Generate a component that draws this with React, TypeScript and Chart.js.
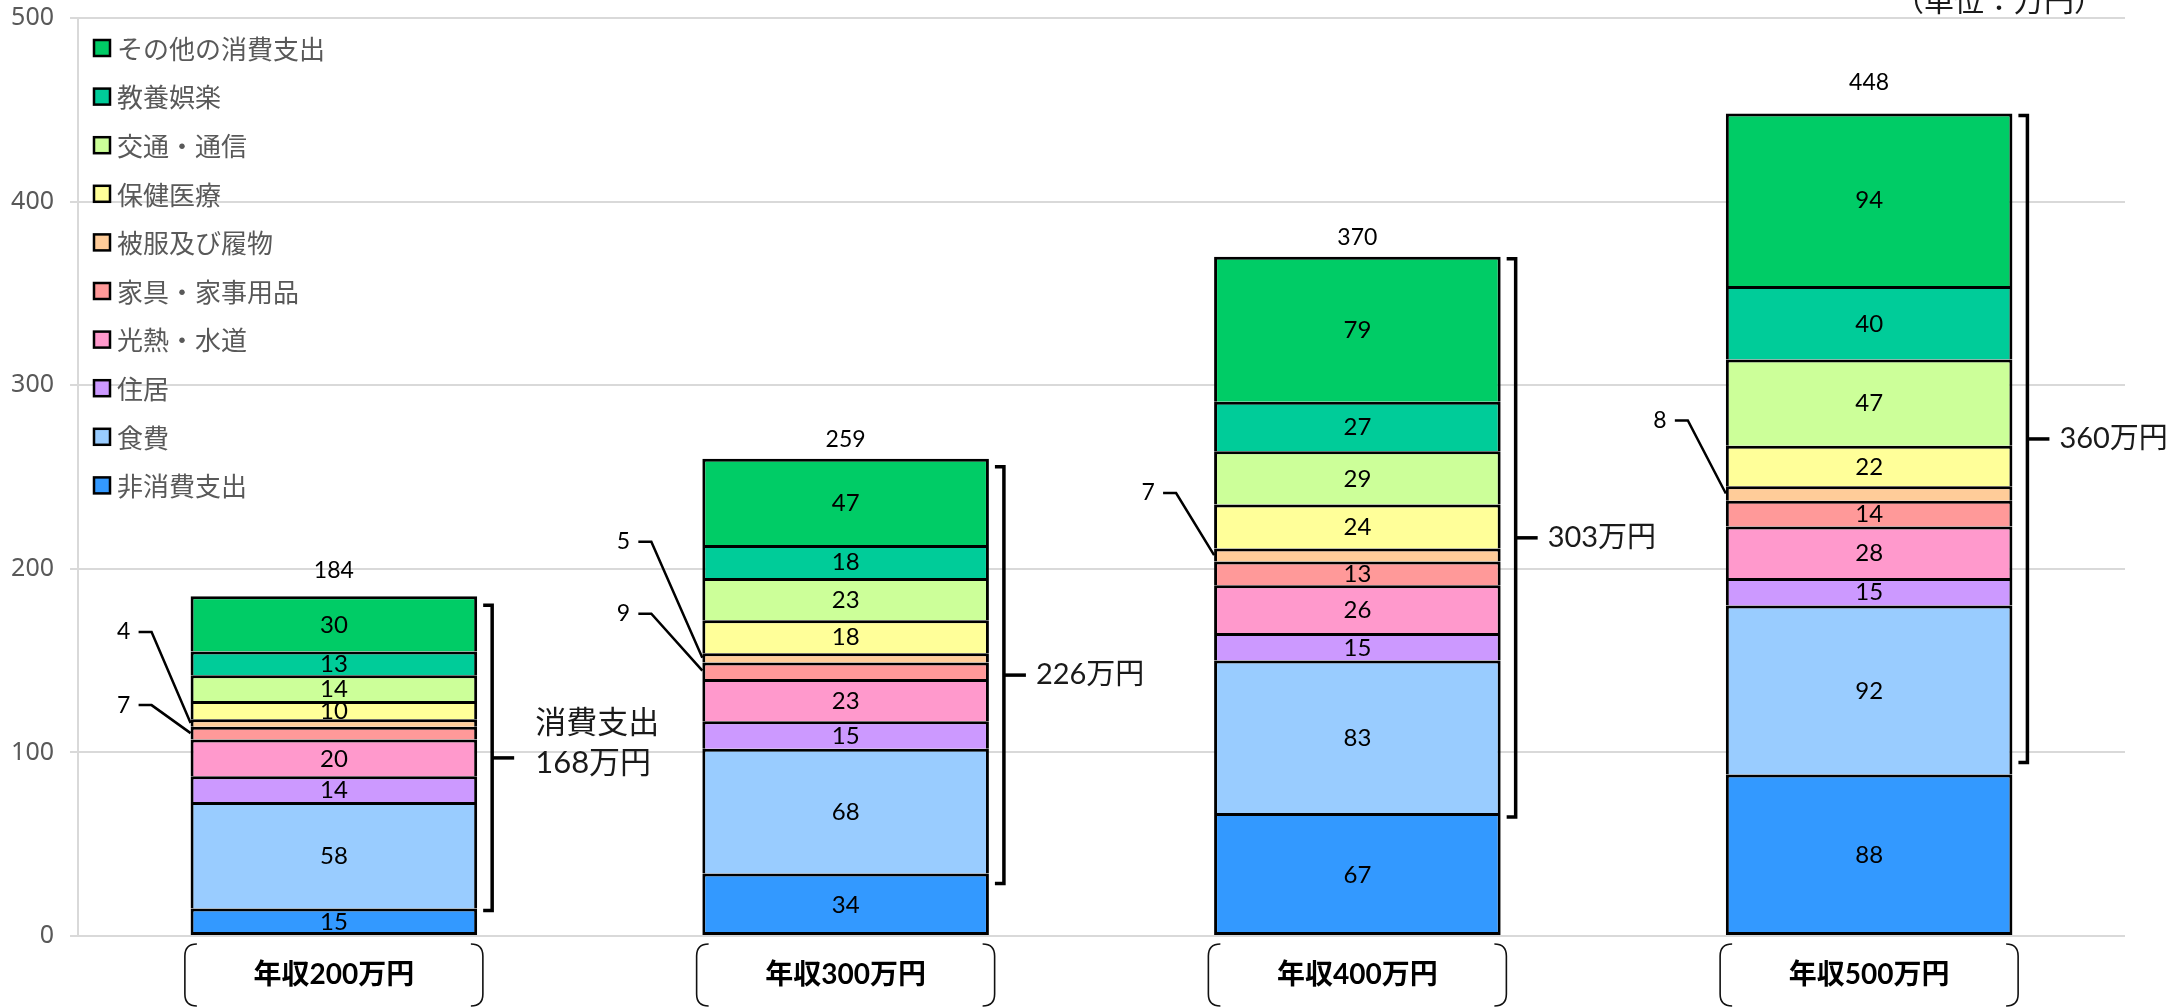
import React, { useEffect, useRef } from "react";
import { Chart, registerables } from "chart.js";

Chart.register(...registerables);

const W = 2172;
const H = 1008;

// ---- data (万円) ----
const categories = ["年収200万円", "年収300万円", "年収400万円", "年収500万円"];
const seriesNames = [
  "非消費支出",
  "食費",
  "住居",
  "光熱・水道",
  "家具・家事用品",
  "被服及び履物",
  "保健医療",
  "交通・通信",
  "教養娯楽",
  "その他の消費支出",
];
const nonConsumption = [15, 34, 67, 88];
const food = [58, 68, 83, 92];
const housing = [14, 15, 15, 15];
const utilities = [20, 23, 26, 28];
const furniture = [7, 9, 13, 14];
const clothing = [4, 5, 7, 8];
const health = [10, 18, 24, 22];
const transport = [14, 23, 29, 47];
const culture = [13, 18, 27, 40];
const otherSpending = [30, 47, 79, 94];
const totalLabels = [184, 259, 370, 448];
const consumptionLabels = [168, 226, 303, 360];
const yTicks = [0, 100, 200, 300, 400, 500];
const unitText = "（単位：万円）";

const seriesValues = [
  nonConsumption,
  food,
  housing,
  utilities,
  furniture,
  clothing,
  health,
  transport,
  culture,
  otherSpending,
];

// ---- styling / layout ----
const seriesColors = [
  "#3399FF",
  "#99CCFF",
  "#CC99FF",
  "#FF99CC",
  "#FF9999",
  "#FFCC99",
  "#FFFF99",
  "#CCFF99",
  "#00CC99",
  "#00CC66",
];

// small segments labelled outside the bar with a leader line
const calloutLayout = [
  { bar: 0, series: 5, dx: -67, dy: -91 },
  { bar: 0, series: 4, dx: -67, dy: -28 },
  { bar: 1, series: 5, dx: -79, dy: -116 },
  { bar: 1, series: 4, dx: -79, dy: -57 },
  { bar: 2, series: 5, dx: -66, dy: -62 },
  { bar: 3, series: 5, dx: -66, dy: -73 },
];
const totalLabelGap = [26, 19, 19, 31];
// bracket end adjustments in px (top inset, bottom shift)
const bracketTopInset = [9, 8, 2, 2];
const bracketBottomShift = [2, 10, 4, -12];

const NUM_FONT = 'Lato, "Noto Sans CJK JP", sans-serif';
const JP_FONT = '"Noto Sans CJK JP", sans-serif';

const isCallout = (bar: number, series: number) =>
  calloutLayout.some((c) => c.bar === bar && c.series === series);

const annotations = {
  id: "annotations",
  afterDatasetsDraw(chart: any) {
    const ctx: CanvasRenderingContext2D = chart.ctx;
    const area = chart.chartArea;
    const n = seriesValues.length;
    const metas = seriesValues.map((_, i) => chart.getDatasetMeta(i));
    ctx.save();

    // values inside segments
    ctx.fillStyle = "#000";
    ctx.font = `24px ${NUM_FONT}`;
    ctx.textAlign = "center";
    ctx.textBaseline = "middle";
    for (let s = 0; s < n; s++) {
      metas[s].data.forEach((el: any, b: number) => {
        if (isCallout(b, s)) return;
        const { x, y, base } = el.getProps(["x", "y", "base"], true);
        ctx.fillText(String(seriesValues[s][b]), x, (y + base) / 2 + 1);
      });
    }

    // callouts for thin segments
    ctx.font = `23px ${NUM_FONT}`;
    ctx.lineWidth = 2.5;
    ctx.strokeStyle = "#000";
    calloutLayout.forEach((c) => {
      const el = metas[c.series].data[c.bar];
      const { x, y, base, width } = el.getProps(["x", "y", "base", "width"], true);
      const left = x - width / 2;
      const mid = (y + base) / 2;
      const lx = left + c.dx;
      const ly = mid + c.dy;
      ctx.fillText(String(seriesValues[c.series][c.bar]), lx, ly);
      ctx.beginPath();
      ctx.moveTo(lx + 15, ly);
      ctx.lineTo(lx + 28, ly);
      ctx.lineTo(left, mid);
      ctx.stroke();
    });

    // totals above bars
    ctx.font = `23px ${NUM_FONT}`;
    metas[n - 1].data.forEach((el: any, b: number) => {
      const { x, y } = el.getProps(["x", "y"], true);
      ctx.fillText(String(totalLabels[b]), x, y - totalLabelGap[b]);
    });

    // brackets for consumption spending
    ctx.lineWidth = 3.5;
    ctx.lineJoin = "miter";
    metas[0].data.forEach((el: any, b: number) => {
      const { x, y, width } = el.getProps(["x", "y", "width"], true);
      const topEl = metas[n - 1].data[b].getProps(["y"], true);
      const bx = x + width / 2 + 15;
      const top = topEl.y + bracketTopInset[b];
      const bottom = y + bracketBottomShift[b];
      const midY = (top + bottom) / 2;
      ctx.strokeStyle = "#000";
      ctx.beginPath();
      ctx.moveTo(bx - 9, top);
      ctx.lineTo(bx, top);
      ctx.lineTo(bx, bottom);
      ctx.lineTo(bx - 9, bottom);
      ctx.stroke();
      ctx.beginPath();
      ctx.moveTo(bx, midY);
      ctx.lineTo(bx + 22, midY);
      ctx.stroke();

      ctx.fillStyle = "#1a1a1a";
      ctx.textAlign = "left";
      if (b === 0) {
        ctx.font = `31px ${NUM_FONT}`;
        ctx.fillText("消費支出", bx + 43, midY - 35);
        ctx.fillText(`${consumptionLabels[b]}万円`, bx + 43, midY + 5);
      } else {
        ctx.font = `29px ${NUM_FONT}`;
        ctx.fillText(`${consumptionLabels[b]}万円`, bx + 32, midY);
      }
      ctx.fillStyle = "#000";
      ctx.textAlign = "center";
    });

    // category labels in bracket-pair frames
    const xScale = chart.scales.x;
    categories.forEach((cat, i) => {
      const cx = xScale.getPixelForValue(i);
      const left = cx - 149;
      const right = cx + 149;
      const top = area.bottom + 8;
      const bottom = area.bottom + 70;
      const r = 12;
      ctx.lineWidth = 1.6;
      ctx.strokeStyle = "#111";
      ctx.beginPath();
      ctx.moveTo(left + r, top);
      ctx.quadraticCurveTo(left, top, left, top + r);
      ctx.lineTo(left, bottom - r);
      ctx.quadraticCurveTo(left, bottom, left + r, bottom);
      ctx.moveTo(right - r, top);
      ctx.quadraticCurveTo(right, top, right, top + r);
      ctx.lineTo(right, bottom - r);
      ctx.quadraticCurveTo(right, bottom, right - r, bottom);
      ctx.stroke();
      ctx.fillStyle = "#000";
      ctx.font = `bold 28px ${NUM_FONT}`;
      ctx.textAlign = "center";
      ctx.textBaseline = "middle";
      ctx.fillText(cat, cx, (top + bottom) / 2);
    });

    // legend (top series first)
    const lx = area.left + 16;
    let ly = area.top + 30;
    for (let s = n - 1; s >= 0; s--) {
      ctx.fillStyle = seriesColors[s];
      ctx.fillRect(lx, ly - 8, 16, 16);
      ctx.lineWidth = 2.5;
      ctx.strokeStyle = "#000";
      ctx.strokeRect(lx, ly - 8, 16, 16);
      ctx.fillStyle = "#595959";
      ctx.font = `26px ${JP_FONT}`;
      ctx.textAlign = "left";
      ctx.textBaseline = "middle";
      ctx.fillText(seriesNames[s], lx + 23, ly + 1);
      ly += 48.6;
    }

    // unit note
    ctx.fillStyle = "#1a1a1a";
    ctx.font = `30px ${JP_FONT}`;
    ctx.textAlign = "right";
    ctx.textBaseline = "middle";
    ctx.fillText(unitText, 2104, 0);

    ctx.restore();
  },
};

export default function App() {
  const canvasRef = useRef<HTMLCanvasElement>(null);

  useEffect(() => {
    const canvas = canvasRef.current;
    if (!canvas) return;
    const chart = new Chart(canvas, {
      type: "bar",
      data: {
        labels: categories,
        datasets: seriesValues.map((values, i) => ({
          label: seriesNames[i],
          data: values,
          backgroundColor: seriesColors[i],
          borderColor: "#000",
          borderWidth: 3,
          borderSkipped: i === 0 ? false : "start",
          categoryPercentage: 1,
          barPercentage: 0.56,
        })),
      },
      options: {
        responsive: false,
        animation: false,
        devicePixelRatio: 1,
        layout: { padding: { top: 18, right: 47, bottom: 72, left: 0 } },
        plugins: {
          legend: { display: false },
          tooltip: { enabled: false },
          title: { display: false },
        },
        scales: {
          x: {
            stacked: true,
            display: false,
          },
          y: {
            stacked: true,
            min: 0,
            max: 500,
            afterFit(scale: any) {
              scale.width = 78;
              scale.paddingTop = 0;
              scale.paddingBottom = 0;
            },
            afterBuildTicks(scale: any) {
              scale.ticks = yTicks.map((v) => ({ value: v }));
            },
            grid: {
              color: "#D9D9D9",
              lineWidth: 2,
              drawTicks: true,
              tickLength: 8,
              tickColor: "#D9D9D9",
            },
            border: { display: true, color: "#D9D9D9", width: 2 },
            ticks: {
              padding: 16,
              color: "#595959",
              font: { family: '"Noto Sans", sans-serif', size: 25 },
            },
          },
        },
      },
      plugins: [annotations],
    });
    return () => chart.destroy();
  }, []);

  return (
    <div
      style={{
        position: "fixed",
        left: 0,
        top: 0,
        width: W,
        height: H,
        background: "#fff",
      }}
    >
      <canvas
        ref={canvasRef}
        width={W}
        height={H}
        style={{ display: "block", width: W, height: H }}
      />
    </div>
  );
}
